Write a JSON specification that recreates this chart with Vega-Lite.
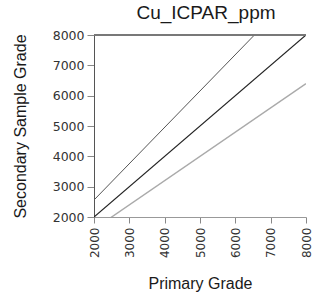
{
  "$schema": "https://vega.github.io/schema/vega-lite/v6.json",
  "autosize": "none",
  "width": 212,
  "height": 182,
  "padding": {"left": 94, "top": 35, "right": 7, "bottom": 84},
  "background": "white",
  "title": {"text": "Cu_ICPAR_ppm", "font": "Liberation Sans", "fontSize": 19, "fontWeight": "normal", "color": "#1a1a1a", "offset": 6, "anchor": "middle", "dx": 6},
  "config": {"view": {"stroke": null}},
  "data": {"values": [
    {"line": "upper", "x": 2000, "y": 2560},
    {"line": "upper", "x": 6540, "y": 8000},
    {"line": "middle", "x": 2000, "y": 2000},
    {"line": "middle", "x": 8000, "y": 8000},
    {"line": "lower", "x": 2000, "y": 1600},
    {"line": "lower", "x": 8000, "y": 6400}
  ]},
  "layer": [
    {
      "mark": {"type": "line", "clip": true},
      "encoding": {
        "x": {"field": "x", "type": "quantitative", "scale": {"domain": [2000, 8000], "nice": false, "zero": false},
          "axis": {"title": "Primary Grade", "values": [2000,3000,4000,5000,6000,7000,8000], "format": "d", "labelAngle": -90, "labelAlign": "right", "labelBaseline": "middle", "labelFont": "DejaVu Sans", "labelFontSize": 12, "labelColor": "#333", "titleFont": "Liberation Sans", "titleFontSize": 16, "titleFontWeight": "normal", "titleColor": "#1a1a1a", "titlePadding": 18, "tickSize": 6, "tickColor": "#888", "domainColor": "#999", "grid": false, "labelPadding": 4, "labelFlush": false, "labelOverlap": false}},
        "y": {"field": "y", "type": "quantitative", "scale": {"domain": [2000, 8000], "nice": false, "zero": false},
          "axis": {"title": "Secondary Sample Grade", "values": [2000,3000,4000,5000,6000,7000,8000], "format": "d", "labelFont": "DejaVu Sans", "labelFontSize": 12.5, "labelColor": "#333", "titleFont": "Liberation Sans", "titleFontSize": 16, "titleFontWeight": "normal", "titleColor": "#1a1a1a", "titlePadding": 24, "tickSize": 7, "tickColor": "#888", "domainColor": "#555", "grid": false, "labelPadding": 3, "labelFlush": false, "labelOverlap": false}},
        "detail": {"field": "line"},
        "color": {"field": "line", "type": "nominal", "scale": {"domain": ["upper", "middle", "lower"], "range": ["#555", "#222", "#aaa"]}, "legend": null},
        "strokeWidth": {"field": "line", "type": "nominal", "scale": {"domain": ["upper", "middle", "lower"], "range": [1, 1.4, 1]}, "legend": null}
      }
    },
    {
      "mark": {"type": "rule", "color": "#777", "strokeWidth": 1},
      "encoding": {"y": {"datum": 8000, "type": "quantitative",
          "axis": {"title": "Secondary Sample Grade", "values": [2000,3000,4000,5000,6000,7000,8000], "format": "d", "labelFont": "DejaVu Sans", "labelFontSize": 12.5, "labelColor": "#333", "titleFont": "Liberation Sans", "titleFontSize": 16, "titleFontWeight": "normal", "titleColor": "#1a1a1a", "titlePadding": 24, "tickSize": 7, "tickColor": "#888", "domainColor": "#555", "grid": false, "labelPadding": 3, "labelFlush": false, "labelOverlap": false}}}
    }
  ]
}
